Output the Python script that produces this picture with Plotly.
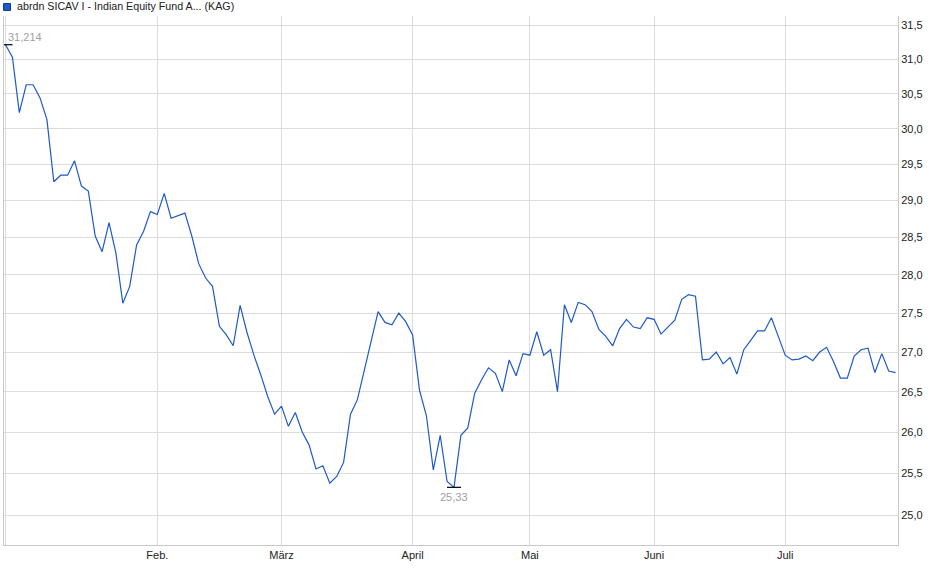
import math

import plotly.graph_objects as go

# closing prices per month (one value per trading day shown)
jan = [31.214, 31.03, 30.23, 30.63, 30.63, 30.44, 30.13, 29.26, 29.35, 29.35, 29.55,
       29.2, 29.13, 28.52, 28.31, 28.7, 28.29, 27.63, 27.85, 28.4, 28.58, 28.85]
feb = [28.81, 29.1, 28.76, 28.79, 28.83, 28.52, 28.15, 27.96, 27.85, 27.33, 27.22,
       27.08, 27.6, 27.25, 26.96, 26.71, 26.44, 26.22]
mar = [26.32, 26.07, 26.24, 26.0, 25.84, 25.55, 25.59, 25.38, 25.46, 25.63, 26.22,
       26.4, 26.76, 27.13, 27.52, 27.38, 27.35, 27.5, 27.39]
apr = [27.22, 26.52, 26.2, 25.54, 25.96, 25.4, 25.33, 25.96, 26.05, 26.48, 26.65,
       26.8, 26.73, 26.5, 26.9, 26.7, 26.98]
mai = [26.96, 27.26, 26.96, 27.03, 26.5, 27.61, 27.38, 27.64, 27.61, 27.52, 27.29,
       27.2, 27.08, 27.3, 27.42, 27.32, 27.3, 27.44]
jun = [27.42, 27.23, 27.32, 27.41, 27.68, 27.74, 27.72, 26.9, 26.91, 27.0, 26.85,
       26.93, 26.72, 27.03, 27.15, 27.27, 27.27, 27.44, 27.2]
jul = [26.96, 26.9, 26.91, 26.95, 26.89, 27.0, 27.06, 26.88, 26.67, 26.67, 26.95,
       27.03, 27.05, 26.74, 26.98, 26.76, 26.74]

months = [("", jan), ("Feb.", feb), ("März", mar), ("April", apr),
          ("Mai", mai), ("Juni", jun), ("Juli", jul)]
y_ticks = [25.0, 25.5, 26.0, 26.5, 27.0, 27.5, 28.0, 28.5, 29.0, 29.5, 30.0, 30.5, 31.0, 31.5]
fund_name = "abrdn SICAV I - Indian Equity Fund A... (KAG)"

prices = []
tickvals, ticktext = [], []
for label, vals in months:
    # every month start gets a gridline, January just has no label
    tickvals.append(len(prices))
    ticktext.append(label)
    prices.extend(vals)
x = list(range(len(prices)))

i_max = max(x, key=lambda i: prices[i])
i_min = min(x, key=lambda i: prices[i])

def de(v, nd):
    return ("{:.%df}" % nd).format(v).replace(".", ",")

LINE = "#1e5ac8"
GRID = "#dcdcdc"

fig = go.Figure()
fig.add_trace(go.Scatter(x=x, y=prices, mode="lines", line=dict(color=LINE, width=1.2),
                         showlegend=False, hoverinfo="skip"))
fig.add_trace(go.Scatter(x=[i_max, i_min], y=[prices[i_max], prices[i_min]], mode="markers",
                         marker=dict(symbol="line-ew", size=10, line=dict(color="black", width=1.2)),
                         showlegend=False, hoverinfo="skip"))

fig.add_annotation(x=i_max, y=math.log10(prices[i_max]), text=de(prices[i_max], 3),
                   showarrow=False, xanchor="left", yanchor="bottom", xshift=0, yshift=0,
                   font=dict(size=11, color="#a0a0a0"))
fig.add_annotation(x=i_min, y=math.log10(prices[i_min]), text=de(prices[i_min], 2),
                   showarrow=False, xanchor="center", yanchor="top", yshift=-2,
                   font=dict(size=11, color="#a0a0a0"))

# legend box
fig.add_shape(type="rect", xref="paper", yref="paper", x0=-0.0005, x1=0.0073, y0=1.0104, y1=1.0236,
              fillcolor=LINE, line=dict(color="#0d3b8e", width=1))
fig.add_annotation(xref="paper", yref="paper", x=0.0118, y=1.018, text=fund_name, showarrow=False,
                   xanchor="left", yanchor="middle", font=dict(size=10.7, color="#222222"))

fig.update_layout(
    width=940, height=579,
    margin=dict(l=4, r=42, t=16, b=34),
    paper_bgcolor="white", plot_bgcolor="white",
    font=dict(family="Liberation Sans, Arial, sans-serif", size=11, color="#222222"),
    xaxis=dict(range=[-0.22, 129.35], tickvals=tickvals, ticktext=ticktext,
               showgrid=True, gridcolor=GRID, gridwidth=1, zeroline=False, automargin=False,
               showline=True, linecolor="#c8c8c8", linewidth=1, ticks="", ticklen=0),
    yaxis=dict(type="log", side="right", range=[math.log10(24.65), math.log10(31.64)],
               tickvals=y_ticks, ticktext=[de(v, 1) for v in y_ticks], automargin=False,
               showgrid=True, gridcolor=GRID, gridwidth=1, zeroline=False,
               showline=True, mirror=True, linecolor="#c8c8c8", linewidth=1,
               ticks="", ticklen=0),
)

fig.write_html("out.html", config={"displayModeBar": False},
               post_script="document.body.style.margin='0';")
